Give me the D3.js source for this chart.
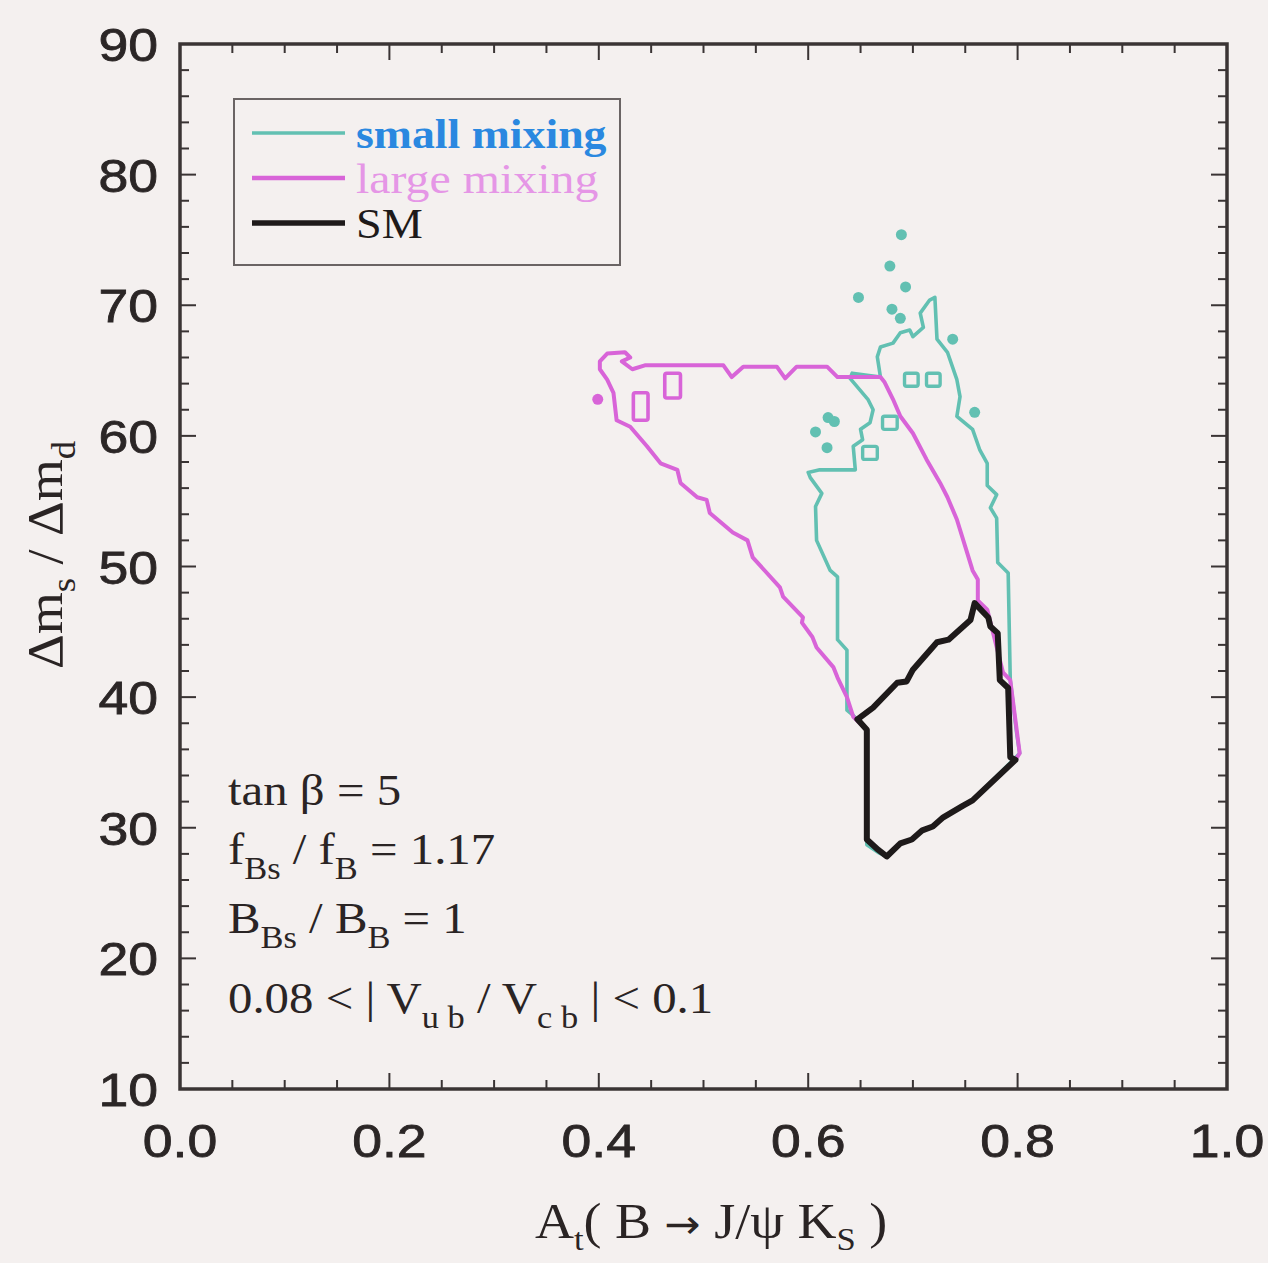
<!DOCTYPE html>
<html>
<head>
<meta charset="utf-8">
<script src="https://cdn.jsdelivr.net/npm/d3@7"></script>
<style>
  body { margin: 0; background: #f4f0ef; }
  svg { display: block; }
  .tick-label { font-family: "Liberation Sans", Arial, sans-serif; font-size: 47px; fill: #2b2626; stroke: #2b2626; stroke-width: 0.8px; }
  .serif { font-family: "Liberation Serif", "Times New Roman", serif; }
</style>
</head>
<body>
<script>
// contours in (A_t, dm_s/dm_d) space

var smPoly = [[0.759,47.2],[0.772,46.1],[0.774,45.4],[0.781,44.9],[0.783,41.3],[0.791,40.7],[0.793,35.4],[0.798,35.2],
  [0.757,32.1],[0.748,31.7],[0.729,30.8],[0.719,30.1],[0.709,29.8],[0.699,29.1],[0.688,28.8],[0.675,27.8],[0.667,28.3],
  [0.656,29.1],[0.656,37.5],[0.647,38.3],[0.662,39.2],[0.685,41.1],[0.694,41.2],[0.700,42.1],[0.723,44.2],[0.734,44.4],[0.755,45.9]];

var largePoly = [[0.401,65.7],[0.408,66.3],[0.425,66.4],[0.430,66.0],[0.422,65.7],[0.432,65.1],[0.444,65.4],[0.449,65.4],
  [0.519,65.4],[0.527,64.5],[0.538,65.3],[0.570,65.3],[0.578,64.4],[0.589,65.3],[0.618,65.3],[0.628,64.5],[0.669,64.5],
  [0.673,64.1],[0.681,62.8],[0.688,61.5],[0.700,60.2],[0.713,58.2],[0.726,56.4],[0.733,55.3],[0.742,53.6],[0.752,51.0],
  [0.757,49.7],[0.762,49.0],[0.762,47.4],[0.771,46.7],[0.786,41.9],[0.793,41.3],[0.802,35.7],[0.798,35.2],
  [0.757,32.1],[0.748,31.7],[0.729,30.8],[0.719,30.1],[0.709,29.8],[0.699,29.1],[0.688,28.8],[0.675,27.8],[0.667,28.3],
  [0.656,29.1],[0.656,37.5],[0.643,38.5],[0.637,40.0],[0.628,41.5],[0.624,42.3],[0.608,43.8],[0.604,44.6],[0.594,45.7],
  [0.595,46.1],[0.576,47.7],[0.573,48.4],[0.547,50.7],[0.542,52.0],[0.528,52.6],[0.506,54.1],[0.503,55.1],[0.494,55.3],
  [0.478,56.4],[0.475,57.4],[0.459,57.9],[0.446,59.2],[0.430,60.7],[0.417,61.2],[0.414,63.3],[0.408,64.3],[0.401,65.1]];

var smallPoly = [[0.721,70.6],[0.723,67.4],[0.733,66.4],[0.742,64.3],[0.745,63.0],[0.742,61.5],[0.757,60.5],[0.764,58.9],
  [0.771,57.9],[0.771,56.2],[0.780,55.5],[0.774,54.5],[0.780,53.7],[0.781,50.3],[0.791,49.5],[0.793,41.3],[0.799,37.3],
  [0.802,35.7],[0.757,32.1],[0.748,31.7],[0.729,30.8],[0.719,30.1],[0.709,29.8],[0.699,29.1],[0.688,28.8],[0.675,27.8],
  [0.667,28.1],[0.656,28.7],[0.656,37.5],[0.643,38.6],[0.637,39.0],[0.637,43.6],[0.628,44.4],[0.628,49.2],[0.621,49.7],
  [0.608,52.0],[0.607,54.6],[0.613,55.6],[0.602,56.8],[0.600,57.2],[0.611,57.4],[0.645,57.4],[0.643,59.2],[0.652,59.7],
  [0.650,60.5],[0.659,61.0],[0.662,62.0],[0.657,62.8],[0.640,64.4],[0.642,64.8],[0.669,64.5],[0.666,66.05],[0.669,66.8],
  [0.681,67.1],[0.688,67.9],[0.697,68.1],[0.700,67.6],[0.710,68.3],[0.707,69.4],[0.716,70.4]];

// isolated points and tiny islands
var smallDots = [[0.689,75.4],[0.678,73.0],[0.693,71.4],[0.648,70.6],[0.680,69.7],[0.688,69.0],[0.738,67.4],
  [0.759,61.8],[0.619,61.4],[0.625,61.1],[0.607,60.3],[0.618,59.1]];
var smallBoxes = [[0.652,0.666,58.2,59.2],[0.671,0.685,60.5,61.5],[0.692,0.705,63.8,64.8],[0.713,0.726,63.8,64.8]];
var largeDots = [[0.399,62.8]];
var largeBoxes = [[0.433,0.447,61.2,63.3],[0.463,0.478,62.9,64.8]];

var xTicks = [0.0, 0.2, 0.4, 0.6, 0.8, 1.0];
var yTicks = [10, 20, 30, 40, 50, 60, 70, 80, 90];
var legendNames = ["small mixing", "large mixing", "SM"];

window.onload = function() {

  var W = 1268, H = 1263;
  var left = 180, right = 1227, top = 44, bottom = 1089;

  var svg = d3.select("body").append("svg")
    .attr("width", W)
    .attr("height", H);

  svg.append("rect").attr("width", W).attr("height", H).attr("fill", "#f4f0ef");

  var x = d3.scaleLinear().domain([0, 1]).range([left, right]);
  var y = d3.scaleLinear().domain([10, 90]).range([bottom, top]);

  var colTeal = "#62c0b2", colMag = "#d864d8", colBlack = "#1e1a1a";

  // text placed at (px,py) and widened a bit, the original fonts run wide
  function wide(sel, px, py, sx) {
    return sel.attr("transform", "translate(" + px + "," + py + ") scale(" + sx + ",1)");
  }

  // minor + major ticks, pointing inward, on all four sides
  var xMinor = d3.range(0, 1.0001, 0.05);
  var yMinor = d3.range(10, 90.001, 2);
  var tickG = svg.append("g").attr("stroke", "#3a3434").attr("stroke-width", 2);

  function isMajorX(v) { return Math.abs(v * 5 - Math.round(v * 5)) < 1e-6; }
  function isMajorY(v) { return Math.abs(v / 10 - Math.round(v / 10)) < 1e-6; }

  xMinor.forEach(function(v) {
    var len = isMajorX(v) ? 16 : 9;
    tickG.append("line").attr("x1", x(v)).attr("x2", x(v)).attr("y1", bottom).attr("y2", bottom - len);
    tickG.append("line").attr("x1", x(v)).attr("x2", x(v)).attr("y1", top).attr("y2", top + len);
  });
  yMinor.forEach(function(v) {
    var len = isMajorY(v) ? 16 : 9;
    tickG.append("line").attr("y1", y(v)).attr("y2", y(v)).attr("x1", left).attr("x2", left + len);
    tickG.append("line").attr("y1", y(v)).attr("y2", y(v)).attr("x1", right).attr("x2", right - len);
  });

  // tick labels
  svg.selectAll(".xl").data(xTicks).enter().append("text")
    .attr("class", "tick-label")
    .attr("text-anchor", "middle")
    .attr("transform", function(d) { return "translate(" + x(d) + ",1157) scale(1.14,1)"; })
    .text(function(d) { return d.toFixed(1); });

  svg.selectAll(".yl").data(yTicks).enter().append("text")
    .attr("class", "tick-label")
    .attr("text-anchor", "end")
    .attr("transform", function(d) { return "translate(158," + (y(d) + 17) + ") scale(1.14,1)"; })
    .text(function(d) { return d; });

  // contours
  var line = d3.line()
    .x(function(d) { return x(d[0]); })
    .y(function(d) { return y(d[1]); })
    .curve(d3.curveLinearClosed);

  var plot = svg.append("g").attr("fill", "none").attr("stroke-linejoin", "round");

  function boxes(list, color, w) {
    plot.selectAll(null).data(list).enter().append("rect")
      .attr("x", function(d) { return x(d[0]); })
      .attr("y", function(d) { return y(d[3]); })
      .attr("width", function(d) { return x(d[1]) - x(d[0]); })
      .attr("height", function(d) { return y(d[2]) - y(d[3]); })
      .attr("rx", 2)
      .attr("stroke", color)
      .attr("stroke-width", w);
  }
  function dots(list, color) {
    plot.selectAll(null).data(list).enter().append("circle")
      .attr("cx", function(d) { return x(d[0]); })
      .attr("cy", function(d) { return y(d[1]); })
      .attr("r", 5.5)
      .attr("fill", color);
  }

  plot.append("path").datum(smallPoly).attr("d", line).attr("stroke", colTeal).attr("stroke-width", 3.6);
  boxes(smallBoxes, colTeal, 3.4);
  dots(smallDots, colTeal);

  plot.append("path").datum(largePoly).attr("d", line).attr("stroke", colMag).attr("stroke-width", 4);
  boxes(largeBoxes, colMag, 3.6);
  dots(largeDots, colMag);

  plot.append("path").datum(smPoly).attr("d", line).attr("stroke", colBlack).attr("stroke-width", 6);

  // frame
  svg.append("rect")
    .attr("x", left).attr("y", top)
    .attr("width", right - left).attr("height", bottom - top)
    .attr("fill", "none").attr("stroke", "#3a3434").attr("stroke-width", 3.5);

  // legend
  var lg = svg.append("g");
  lg.append("rect")
    .attr("x", 234).attr("y", 99).attr("width", 386).attr("height", 166)
    .attr("fill", "none").attr("stroke", "#6a6464").attr("stroke-width", 2);
  var legColors = [colTeal, colMag, colBlack];
  var legText = ["#2a88e0", "#e596e6", "#1e1a1a"];
  var legW = [3.5, 4.5, 5.5];
  var legSx = [1.09, 1.14, 1.1];
  legendNames.forEach(function(name, i) {
    var ly = 133 + i * 45;
    lg.append("line").attr("x1", 252).attr("x2", 345).attr("y1", ly).attr("y2", ly)
      .attr("stroke", legColors[i]).attr("stroke-width", legW[i]);
    wide(lg.append("text"), 356, ly + 15, legSx[i])
      .attr("class", "serif")
      .attr("font-size", 42)
      .attr("font-weight", i == 0 ? "bold" : "normal")
      .attr("fill", legText[i])
      .text(name);
  });

  // parameter block
  var pg = svg.append("g").attr("class", "serif").attr("fill", "#2a2424").attr("font-size", 44);
  function note(yy, parts) {
    var t = wide(pg.append("text"), 228, yy, 1.11);
    parts.forEach(function(p) {
      var s = t.append("tspan").text(p[0]);
      if (p[1] == "sub") s.attr("font-size", 31).attr("dy", 15);
      if (p[1] == "up") s.attr("dy", -15);
    });
  }
  note(805, [["tan \u03b2 = 5"]]);
  note(864, [["f"], ["Bs", "sub"], [" / f", "up"], ["B", "sub"], [" = 1.17", "up"]]);
  note(933, [["B"], ["Bs", "sub"], [" / B", "up"], ["B", "sub"], [" = 1", "up"]]);
  note(1013, [["0.08 < | V"], ["u b", "sub"], [" / V", "up"], ["c b", "sub"], [" | < 0.1", "up"]]);

  // axis titles
  var xt = wide(svg.append("text"), 711, 1238, 1.08)
    .attr("class", "serif").attr("font-size", 50).attr("fill", "#2a2424")
    .attr("text-anchor", "middle");
  xt.append("tspan").text("A");
  xt.append("tspan").text("t").attr("font-size", 32).attr("dy", 12);
  xt.append("tspan").text("( B ").attr("dy", -12);
  xt.append("tspan").text("\u2192").attr("font-family", "DejaVu Sans").attr("font-size", 40);
  xt.append("tspan").text(" J/\u03c8 K");
  xt.append("tspan").text("S").attr("font-size", 32).attr("dy", 12);
  xt.append("tspan").text(" )").attr("dy", -12);

  var yt = svg.append("text").attr("class", "serif").attr("font-size", 50).attr("fill", "#2a2424")
    .attr("transform", "translate(62,555) rotate(-90) scale(1.08,1)")
    .attr("text-anchor", "middle");
  yt.append("tspan").text("\u0394m");
  yt.append("tspan").text("s").attr("font-size", 34).attr("dy", 13);
  yt.append("tspan").text(" / \u0394m").attr("dy", -13);
  yt.append("tspan").text("d").attr("font-size", 34).attr("dy", 13);
};
</script>
</body>
</html>
